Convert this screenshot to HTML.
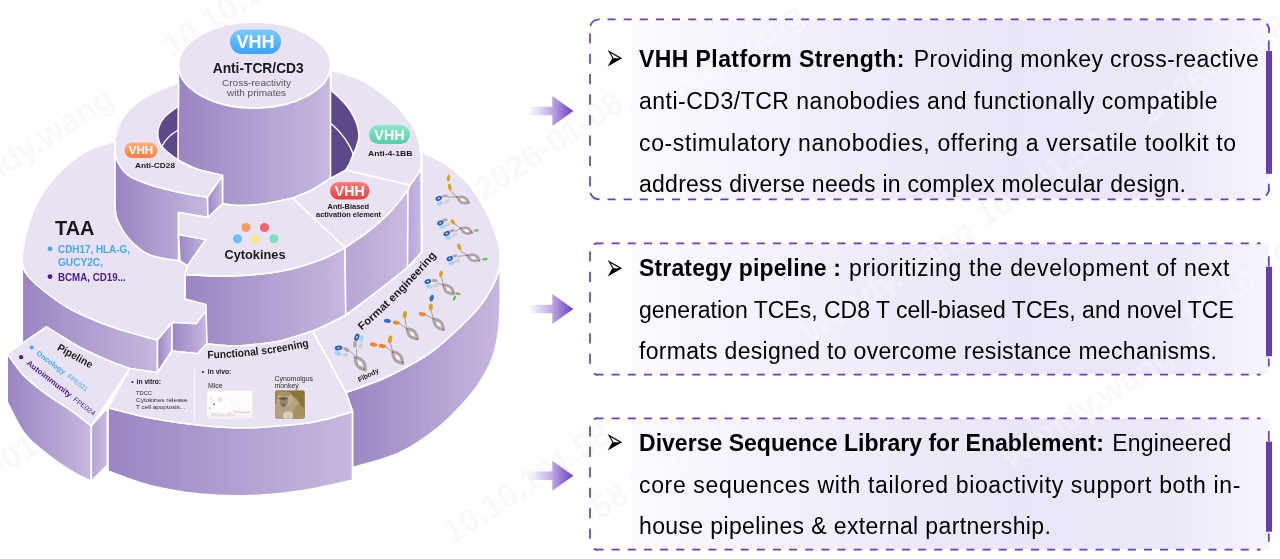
<!DOCTYPE html>
<html lang="en"><head><meta charset="utf-8"><title>VHH Platform</title>
<style>
html,body{margin:0;padding:0;background:#fff;}
body{width:1280px;height:559px;overflow:hidden;}
svg{display:block;font-family:"Liberation Sans",sans-serif;}
</style></head><body>
<svg width="1280" height="559" viewBox="0 0 1280 559">

<defs>
<clipPath id="bxclip"><rect x="632" y="20" width="637" height="179"/><rect x="632" y="244" width="637" height="130"/><rect x="632" y="419" width="637" height="130"/></clipPath>
<linearGradient id="wg" x1="0" x2="1" y1="0" y2="0"><stop offset="0" stop-color="#9a85c2"/><stop offset="1" stop-color="#c6b8df"/></linearGradient>
<linearGradient id="wgl" x1="0" x2="1" y1="0" y2="0"><stop offset="0" stop-color="#b7a6d5"/><stop offset="1" stop-color="#c8bae0"/></linearGradient>
<linearGradient id="gB" x1="0" x2="0" y1="0" y2="1"><stop offset="0" stop-color="#7ccaff"/><stop offset="1" stop-color="#3aa3f5"/></linearGradient>
<linearGradient id="gO" x1="0" x2="0" y1="0" y2="1"><stop offset="0" stop-color="#ffb07a"/><stop offset="1" stop-color="#f5803c"/></linearGradient>
<linearGradient id="gG" x1="0" x2="0" y1="0" y2="1"><stop offset="0" stop-color="#8ee8c9"/><stop offset="1" stop-color="#4fd0a8"/></linearGradient>
<linearGradient id="gR" x1="0" x2="0" y1="0" y2="1"><stop offset="0" stop-color="#ff7f7f"/><stop offset="1" stop-color="#ec3b3b"/></linearGradient>
<linearGradient id="mbg" x1="0" x2="0" y1="0" y2="1"><stop offset="0" stop-color="#ffffff"/><stop offset="0.7" stop-color="#fbfbfc"/><stop offset="1" stop-color="#efeef1"/></linearGradient>
<linearGradient id="bx" x1="0" x2="1" y1="0" y2="0"><stop offset="0" stop-color="#fcfbff"/><stop offset="0.1" stop-color="#f8f6fd"/><stop offset="0.25" stop-color="#f3f0fb"/><stop offset="0.45" stop-color="#ede9f8"/><stop offset="0.6" stop-color="#ebe6f7"/><stop offset="0.85" stop-color="#ede8f8"/><stop offset="1" stop-color="#f6f4fc"/></linearGradient>
<linearGradient id="ar" x1="0" x2="1" y1="0" y2="0"><stop offset="0" stop-color="#b9a3e3" stop-opacity="0"/><stop offset="1" stop-color="#b9a3e3"/></linearGradient>
<linearGradient id="ah" x1="0" x2="1" y1="0" y2="0"><stop offset="0" stop-color="#bba6e4"/><stop offset="1" stop-color="#6a3fc0"/></linearGradient>
</defs>
<g font-size="33" font-weight="bold" fill="#000" opacity="0.024"><text transform="translate(172 58) rotate(-33)">10.10.101.58</text><text transform="translate(-50 212) rotate(-33)">Wendy.wang</text><text transform="translate(484 201) rotate(-33)">2026-01-08</text><text transform="translate(-61 518) rotate(-33)">2026-01-08</text><text transform="translate(452 545) rotate(-33)">10.10.101.58</text><text transform="translate(640 128) rotate(-33)">Wendy.wang</text><text transform="translate(985 228) rotate(-33)">10.101.58</text><text transform="translate(1150 124) rotate(-33)">2026-01-08</text><text transform="translate(810 345) rotate(-33)">Wendy.wang</text><text transform="translate(600 520) rotate(-33)">58 2026-01</text><text transform="translate(1010 470) rotate(-33)">Wendy.wang</text><text transform="translate(1190 330) rotate(-33)">10.10.101</text></g>
<g id="diagram">
<path d="M22.3 256.0 C22.5 258.0 22.5 264.6 23.5 268.0 C24.5 271.4 25.3 272.8 28.5 276.5 C31.7 280.2 36.9 285.2 42.9 290.0 C48.9 294.8 57.3 301.1 64.4 305.5 C71.6 309.9 77.0 312.6 85.8 316.5 C94.6 320.4 105.5 324.8 117.5 328.8 C129.4 332.7 150.8 338.1 157.5 340.0 L157.5 373.0 L129.8 368.5 L129.8 368.5 C127.1 367.6 119.0 364.9 113.7 362.8 C108.4 360.7 103.6 358.6 98.0 356.0 C92.4 353.4 85.9 350.7 80.0 347.5 C74.1 344.3 68.2 340.4 62.6 337.0 C57.0 333.6 49.0 328.6 46.3 326.9 L22.3 344.6 Z" fill="url(#wg)" stroke="#ffffff" stroke-width="1.6" stroke-linejoin="round" />
<path d="M500.0 252.0 C499.9 254.7 500.6 262.1 499.3 268.0 C498.0 273.9 495.6 280.7 492.0 287.4 C488.4 294.1 484.2 301.0 478.0 308.4 C471.8 315.8 462.3 324.7 455.0 331.6 C447.7 338.5 441.2 344.6 434.0 350.0 C426.8 355.4 420.0 359.5 411.5 364.3 C403.0 369.1 393.9 374.0 383.0 378.7 C372.1 383.4 352.2 390.2 346.0 392.5 L352.5 411.5 L352.5 467.5 L353.0 467.5 C360.8 465.0 385.5 459.4 400.0 452.5 C414.5 445.6 428.5 435.2 440.0 426.0 C451.5 416.8 461.6 405.2 468.8 397.0 C476.0 388.8 478.9 383.9 483.0 377.0 C487.1 370.1 490.7 363.3 493.3 355.5 C495.9 347.7 497.4 339.2 498.6 330.0 C499.8 320.8 500.0 305.0 500.3 300.0 Z" fill="url(#wg)" stroke="#ffffff" stroke-width="1.6" stroke-linejoin="round" />
<path d="M423.3 153.3 C427.2 155.2 438.8 159.5 446.5 164.9 C454.2 170.3 463.2 178.1 469.8 185.8 C476.4 193.6 481.8 203.5 486.0 211.4 C490.2 219.3 493.0 226.2 495.3 233.0 C497.6 239.8 499.3 246.2 500.0 252.0 C500.7 257.8 500.6 262.1 499.3 268.0 C498.0 273.9 495.6 280.7 492.0 287.4 C488.4 294.1 484.2 301.0 478.0 308.4 C471.8 315.8 462.3 324.7 455.0 331.6 C447.7 338.5 441.2 344.6 434.0 350.0 C426.8 355.4 420.0 359.5 411.5 364.3 C403.0 369.1 393.9 374.0 383.0 378.7 C372.1 383.4 352.2 390.2 346.0 392.5 L312.5 331.0 L312.5 331.0 C318.0 328.3 335.8 321.0 345.8 315.0 C355.8 309.0 362.2 302.9 372.5 295.0 C382.8 287.1 399.2 274.7 407.5 267.5 C415.8 260.3 419.6 254.6 422.0 252.0 L422.0 154.0 Z" fill="#e9e2f2" stroke="#ffffff" stroke-width="1.6" stroke-linejoin="round" />
<path d="M185.0 274.5 C192.8 274.8 215.8 276.6 232.0 276.0 C248.2 275.4 267.3 273.7 282.0 271.0 C296.7 268.3 309.5 263.9 320.0 260.0 C330.5 256.1 340.8 249.6 345.0 247.5 L345.8 315.0 L345.8 315.0 C340.2 317.7 323.5 326.7 312.5 331.0 C301.5 335.3 290.4 338.7 280.0 341.0 C269.6 343.3 257.9 344.2 250.0 345.0 C242.1 345.8 239.7 346.2 232.5 346.0 C225.3 345.8 211.2 344.1 207.0 343.8 L185.0 340.0 Z" fill="url(#wg)" stroke="#ffffff" stroke-width="1.6" stroke-linejoin="round" />
<path d="M345.0 247.5 C349.2 244.6 362.5 235.9 370.0 230.0 C377.5 224.1 383.7 218.7 390.0 212.0 C396.3 205.3 405.0 193.7 408.0 190.0 L408.0 267.5 L407.5 267.5 C401.7 272.1 382.8 287.1 372.5 295.0 C362.2 302.9 350.2 311.7 345.8 315.0 Z" fill="url(#wgl)" stroke="#ffffff" stroke-width="1.6" stroke-linejoin="round" />
<path d="M408.0 190.0 L410.0 185.0 L420.0 170.0 L421.0 155.0 L421.5 252.0 L407.5 267.5 Z" fill="url(#wgl)" stroke="#ffffff" stroke-width="1.6" stroke-linejoin="round" />
<path d="M113.5 141.5 C108.9 143.2 95.4 146.0 86.0 151.5 C76.6 157.0 65.4 165.8 57.3 174.4 C49.2 183.0 42.5 193.0 37.2 203.0 C32.0 213.0 28.3 225.8 25.8 234.6 C23.3 243.4 22.7 250.4 22.3 256.0 C21.9 261.6 22.5 264.6 23.5 268.0 C24.5 271.4 25.3 272.8 28.5 276.5 C31.7 280.2 36.9 285.2 42.9 290.0 C48.9 294.8 57.3 301.1 64.4 305.5 C71.6 309.9 77.0 312.6 85.8 316.5 C94.6 320.4 105.5 324.8 117.5 328.8 C129.4 332.7 150.8 338.1 157.5 340.0 L172.0 322.5 L196.0 323.8 L206.0 311.0 L206.0 304.5 L185.0 299.0 L185.0 274.5 L187.5 266.0 L180.0 261.0 L180.0 261.0 C175.0 260.0 158.3 258.5 150.0 255.0 C141.7 251.5 135.4 245.8 130.0 240.0 C124.6 234.2 120.0 225.8 117.5 220.0 C115.0 214.2 115.4 207.5 115.0 205.0 L115.0 142.0 Z" fill="#e9e2f2" stroke="#ffffff" stroke-width="1.6" stroke-linejoin="round" />
<path d="M157.5 340.0 L172.0 322.5 L172.0 351.0 L157.5 372.5 Z" fill="url(#wg)" stroke="#ffffff" stroke-width="1.6" stroke-linejoin="round" />
<path d="M172.0 322.5 L196.0 323.8 L206.0 311.0 L207.0 343.8 L197.5 353.8 L172.0 351.0 Z" fill="url(#wg)" stroke="#ffffff" stroke-width="1.6" stroke-linejoin="round" />
<path d="M108.0 407.8 C115.0 409.5 134.7 415.1 150.0 418.0 C165.3 420.9 184.2 423.6 200.0 425.2 C215.8 426.8 228.3 428.0 245.0 427.8 C261.7 427.6 286.7 425.4 300.0 424.0 C313.3 422.6 316.2 421.6 325.0 419.5 C333.8 417.4 347.9 412.8 352.5 411.5 L352.5 480.0 L351.5 480.5 C342.9 482.2 316.9 488.5 300.0 491.0 C283.1 493.5 266.7 495.0 250.0 495.5 C233.3 496.0 216.7 495.7 200.0 494.0 C183.3 492.3 165.3 489.3 150.0 485.5 C134.7 481.7 115.0 473.4 108.0 471.0 Z" fill="url(#wg)" stroke="#ffffff" stroke-width="1.6" stroke-linejoin="round" />
<path d="M129.8 368.5 L157.5 372.5 L172.0 351.0 L197.5 353.8 L207.0 343.8 C211.2 344.1 225.3 345.8 232.5 346.0 C239.7 346.2 242.1 345.8 250.0 345.0 C257.9 344.2 269.6 343.3 280.0 341.0 C290.4 338.7 307.1 332.7 312.5 331.0 L346.0 392.5 L352.5 411.5 L352.5 411.5 C347.9 412.8 333.8 417.4 325.0 419.5 C316.2 421.6 313.3 422.6 300.0 424.0 C286.7 425.4 261.7 427.6 245.0 427.8 C228.3 428.0 215.8 426.8 200.0 425.2 C184.2 423.6 165.3 420.9 150.0 418.0 C134.7 415.1 115.0 409.5 108.0 407.8 Z" fill="#e9e2f2" stroke="#ffffff" stroke-width="1.6" stroke-linejoin="round" />
<path d="M7.2 353.5 C9.9 357.1 17.1 368.3 23.3 374.9 C29.6 381.4 36.7 386.8 44.7 392.8 C52.8 398.8 63.8 405.3 71.6 410.8 C79.4 416.3 88.0 423.3 91.3 425.8 L91.3 481.0 L91.3 481.0 C88.6 479.7 81.9 477.4 75.0 473.3 C68.1 469.2 58.3 462.9 50.0 456.3 C41.7 449.8 32.1 443.1 25.0 434.0 C17.9 424.9 10.2 407.3 7.2 402.0 Z" fill="url(#wg)" stroke="#ffffff" stroke-width="1.6" stroke-linejoin="round" />
<path d="M91.3 425.8 L107.5 408.0 L107.5 465.0 L91.3 481.0 Z" fill="url(#wgl)" stroke="#ffffff" stroke-width="1.6" stroke-linejoin="round" />
<path d="M46.3 326.9 C49.0 328.6 57.0 333.6 62.6 337.0 C68.2 340.4 74.1 344.3 80.0 347.5 C85.9 350.7 92.4 353.4 98.0 356.0 C103.6 358.6 108.4 360.7 113.7 362.8 C119.0 364.9 127.1 367.6 129.8 368.5 L91.3 425.8 L91.3 425.8 C88.0 423.3 79.4 416.3 71.6 410.8 C63.8 405.3 52.8 398.8 44.7 392.8 C36.7 386.8 29.6 381.4 23.3 374.9 C17.1 368.3 9.9 357.1 7.2 353.5 Z" fill="#e9e2f2" stroke="#ffffff" stroke-width="1.6" stroke-linejoin="round" />
<path d="M178.5 106.0 C176.2 107.8 167.9 113.5 164.6 117.0 C161.3 120.5 159.8 123.9 158.7 127.0 C157.6 130.1 157.3 132.5 157.8 135.8 C158.3 139.1 158.3 142.6 161.7 146.6 C165.1 150.6 175.3 157.8 178.0 160.0 L331.0 178.0 L346.0 170.0 L346.0 170.0 C346.8 168.3 348.8 165.8 351.0 160.0 C353.2 154.2 359.2 143.3 359.0 135.0 C358.8 126.7 354.7 117.5 350.0 110.0 C345.3 102.5 334.2 93.3 331.0 90.0 Z" fill="#5d4889" stroke="none" stroke-width="1.6" stroke-linejoin="round" />
<path d="M161.7 146.6 Q167 136 179 129.5" fill="none" stroke="#fff" stroke-width="1.4"/>
<path d="M330 122.5 Q348 138 354 156" fill="none" stroke="#fff" stroke-width="1.4"/>
<path d="M178.5 65.0 L178.0 160.0 C181.0 161.5 190.7 166.7 196.0 168.8 C201.3 170.8 205.6 171.4 210.0 172.5 C214.4 173.6 220.4 175.0 222.5 175.5 L222.5 203.8 L222.5 203.8 C225.4 204.1 232.9 205.6 240.0 205.6 C247.1 205.6 256.2 205.0 265.0 203.8 C273.8 202.5 287.9 199.0 292.5 198.0 L292.5 198.0 C295.8 196.7 305.7 193.2 312.0 190.0 C318.3 186.8 327.4 180.4 330.5 178.5 L330.5 65.0 Z" fill="url(#wg)" stroke="#ffffff" stroke-width="1.6" stroke-linejoin="round" />
<ellipse cx="254.5" cy="65" rx="76" ry="43" fill="#e9e2f2" stroke="#fff" stroke-width="1.8"/>
<path d="M115.0 142.5 C115.3 145.4 114.8 154.6 117.0 160.0 C119.2 165.4 123.3 171.2 128.0 175.0 C132.7 178.8 138.8 180.7 145.0 183.0 C151.2 185.3 157.5 187.1 165.0 189.0 C172.5 190.9 182.9 193.2 190.0 194.5 C197.1 195.8 204.6 196.6 207.5 197.0 L208.0 217.5 L178.5 212.5 L178.5 261.0 L180.0 261.0 C175.0 260.0 158.3 258.5 150.0 255.0 C141.7 251.5 135.4 245.8 130.0 240.0 C124.6 234.2 120.0 225.8 117.5 220.0 C115.0 214.2 115.4 207.5 115.0 205.0 Z" fill="url(#wg)" stroke="#ffffff" stroke-width="1.6" stroke-linejoin="round" />
<path d="M207.5 197.0 L222.5 175.5 L222.5 203.8 L208.0 217.5 Z" fill="url(#wg)" stroke="#ffffff" stroke-width="1.6" stroke-linejoin="round" />
<path d="M178.5 234.5 L206.0 239.5 L187.5 266.0 L180.0 261.0 Z" fill="url(#wg)" stroke="#ffffff" stroke-width="1.6" stroke-linejoin="round" />
<path d="M178.5 82.6 C175.2 83.9 165.3 87.4 158.7 90.5 C152.1 93.6 144.9 96.9 139.0 101.3 C133.1 105.7 127.1 111.8 123.3 117.0 C119.5 122.2 117.8 128.6 116.4 132.8 C115.0 137.1 114.9 138.0 115.0 142.5 C115.1 147.0 114.8 154.6 117.0 160.0 C119.2 165.4 123.3 171.2 128.0 175.0 C132.7 178.8 138.8 180.7 145.0 183.0 C151.2 185.3 157.5 187.1 165.0 189.0 C172.5 190.9 182.9 193.2 190.0 194.5 C197.1 195.8 204.6 196.6 207.5 197.0 L222.5 175.5 L222.5 175.5 C220.4 175.0 214.4 173.6 210.0 172.5 C205.6 171.4 201.3 170.8 196.0 168.8 C190.7 166.7 183.7 163.7 178.0 160.0 C172.3 156.3 165.1 150.6 161.7 146.6 C158.3 142.6 158.3 139.1 157.8 135.8 C157.3 132.5 157.6 130.1 158.7 127.0 C159.8 123.9 161.3 120.5 164.6 117.0 C167.9 113.5 176.2 107.8 178.5 106.0 Z" fill="#e9e2f2" stroke="#ffffff" stroke-width="1.6" stroke-linejoin="round" />
<path d="M178.5 212.5 L208.0 217.5 L222.5 203.8 L222.5 203.8 C225.4 204.1 232.9 205.6 240.0 205.6 C247.1 205.6 256.2 205.0 265.0 203.8 C273.8 202.5 287.9 199.0 292.5 198.0 L345.0 247.5 L345.0 247.5 C340.8 249.6 330.5 256.1 320.0 260.0 C309.5 263.9 296.7 268.3 282.0 271.0 C267.3 273.7 248.2 275.4 232.0 276.0 C215.8 276.6 192.8 274.8 185.0 274.5 L187.5 266.0 L206.0 239.5 L178.5 234.5 Z" fill="#e9e2f2" stroke="#ffffff" stroke-width="1.6" stroke-linejoin="round" />
<path d="M292.5 198.0 L345.0 247.5 L345.0 247.5 C349.2 244.6 362.5 235.9 370.0 230.0 C377.5 224.1 383.7 218.7 390.0 212.0 C396.3 205.3 405.0 193.7 408.0 190.0 L410.0 185.0 L346.0 170.0 L346.0 170.0 C343.5 171.3 336.7 174.7 331.0 178.0 C325.3 181.3 318.4 186.7 312.0 190.0 C305.6 193.3 295.8 196.7 292.5 198.0 Z" fill="#e9e2f2" stroke="#ffffff" stroke-width="1.6" stroke-linejoin="round" />
<path d="M331.0 70.0 C336.2 71.8 352.7 75.9 362.0 80.5 C371.3 85.1 379.5 91.2 387.0 97.5 C394.5 103.8 402.0 111.7 407.0 118.0 C412.0 124.3 414.7 129.3 417.0 135.5 C419.3 141.7 420.5 149.2 421.0 155.0 C421.5 160.8 421.8 165.0 420.0 170.0 C418.2 175.0 411.7 182.5 410.0 185.0 L346.0 170.0 L346.0 170.0 C346.8 168.3 348.8 165.8 351.0 160.0 C353.2 154.2 359.2 143.3 359.0 135.0 C358.8 126.7 354.7 117.5 350.0 110.0 C345.3 102.5 334.2 93.3 331.0 90.0 Z" fill="#e9e2f2" stroke="#ffffff" stroke-width="1.6" stroke-linejoin="round" />
</g>
<g id="labels">
<rect x="230" y="29.5" width="51" height="24.5" rx="12.25" fill="url(#gB)"/>
<text x="255.5" y="48.23" font-size="18" font-weight="bold" fill="#fff" text-anchor="middle" >VHH</text>
<text x="258.2" y="72.5" font-size="14.8" font-weight="bold" fill="#1a1a1a" text-anchor="middle"  textLength="91" lengthAdjust="spacingAndGlyphs">Anti-TCR/CD3</text>
<text x="256.5" y="86" font-size="9.8" font-weight="normal" fill="#555" text-anchor="middle"  textLength="69" lengthAdjust="spacingAndGlyphs">Cross-reactivity</text>
<text x="256.5" y="96" font-size="9.8" font-weight="normal" fill="#555" text-anchor="middle"  textLength="59" lengthAdjust="spacingAndGlyphs">with primates</text>
<rect x="124.5" y="142.5" width="33.0" height="15.5" rx="7.75" fill="url(#gO)"/>
<text x="141.0" y="154.426" font-size="11.6" font-weight="bold" fill="#fff" text-anchor="middle" >VHH</text>
<text x="155" y="168.2" font-size="7.8" font-weight="bold" fill="#1a1a1a" text-anchor="middle"  textLength="40" lengthAdjust="spacingAndGlyphs">Anti-CD28</text>
<rect x="369" y="125" width="41" height="19" rx="9.5" fill="url(#gG)"/>
<text x="389.5" y="139.684" font-size="14.4" font-weight="bold" fill="#fff" text-anchor="middle" >VHH</text>
<text x="390.2" y="156.3" font-size="8" font-weight="bold" fill="#1a1a1a" text-anchor="middle"  textLength="44.5" lengthAdjust="spacingAndGlyphs">Anti-4-1BB</text>
<rect x="330" y="182" width="39.5" height="17.5" rx="8.75" fill="url(#gR)"/>
<text x="349.75" y="195.862" font-size="14.2" font-weight="bold" fill="#fff" text-anchor="middle" >VHH</text>
<text x="348.3" y="209.3" font-size="6.8" font-weight="bold" fill="#1a1a1a" text-anchor="middle"  textLength="41.5" lengthAdjust="spacingAndGlyphs">Anti-Biased</text>
<text x="348.5" y="217" font-size="6.8" font-weight="bold" fill="#1a1a1a" text-anchor="middle"  textLength="65" lengthAdjust="spacingAndGlyphs">activation element</text>
<circle cx="246" cy="227.5" r="4.6" fill="#ff9b61"/>
<circle cx="264.5" cy="227.5" r="4.6" fill="#f7626a"/>
<circle cx="237.5" cy="238.8" r="4.6" fill="#6cbcfb"/>
<circle cx="255" cy="239" r="4.6" fill="#fbe489"/>
<circle cx="273.8" cy="238.8" r="4.6" fill="#7fe0bf"/>
<text x="255" y="258.8" font-size="12.6" font-weight="bold" fill="#1a1a1a" text-anchor="middle"  textLength="61" lengthAdjust="spacingAndGlyphs">Cytokines</text>
<text x="55" y="234.5" font-size="20.5" font-weight="bold" fill="#1a1a1a" text-anchor="start"  textLength="39.5" lengthAdjust="spacingAndGlyphs">TAA</text>
<circle cx="50" cy="248.8" r="2.4" fill="#45a8f5"/>
<text x="58" y="253" font-size="11.4" font-weight="bold" fill="#45a8f5" text-anchor="start"  textLength="72" lengthAdjust="spacingAndGlyphs">CDH17, HLA-G,</text>
<text x="58" y="265.6" font-size="11.4" font-weight="bold" fill="#45a8f5" text-anchor="start"  textLength="45" lengthAdjust="spacingAndGlyphs">GUCY2C,</text>
<circle cx="50" cy="276.6" r="2.4" fill="#4a1a96"/>
<text x="58" y="280.6" font-size="11.4" font-weight="bold" fill="#4a1a96" text-anchor="start"  textLength="67.8" lengthAdjust="spacingAndGlyphs">BCMA, CD19...</text>
<g transform="translate(56.4,349.7) rotate(29)"><text x="0" y="0" font-size="10.6" font-weight="bold" fill="#1a1a1a" textLength="38.8" lengthAdjust="spacingAndGlyphs">Pipeline</text></g>
<circle cx="31.8" cy="347.5" r="2.1" fill="#45a8f5"/>
<g transform="translate(35.8,354.2) rotate(36.8)"><text x="0" y="0" font-size="7.5" font-weight="bold" fill="#45a8f5" textLength="34.2" lengthAdjust="spacingAndGlyphs">Oncology</text><text x="38.6" y="0" font-size="6.8" font-weight="normal" fill="#45a8f5" textLength="24" lengthAdjust="spacingAndGlyphs">FPE021</text></g>
<circle cx="21.1" cy="357.2" r="2.1" fill="#4a1a96"/>
<g transform="translate(25.9,364) rotate(37.7)"><text x="0" y="0" font-size="7.8" font-weight="bold" fill="#4a1a96" textLength="55" lengthAdjust="spacingAndGlyphs">Autoimmunity</text><text x="59.3" y="0" font-size="6.8" font-weight="normal" fill="#4a1a96" textLength="25.5" lengthAdjust="spacingAndGlyphs">FPE024</text></g>
<path id="fsp" d="M207.5 358.5 Q262 357 310 346" fill="none"/>
<text font-size="11" font-weight="bold" fill="#1a1a1a"><textPath href="#fsp" textLength="102.5" lengthAdjust="spacingAndGlyphs">Functional screening</textPath></text>
<text x="131.2" y="384.2" font-size="6.6" font-weight="bold" fill="#1a1a1a" text-anchor="start" >•</text>
<text x="136.6" y="384.2" font-size="6.8" font-weight="bold" fill="#1a1a1a" text-anchor="start"  textLength="24.5" lengthAdjust="spacingAndGlyphs">in vitro:</text>
<text x="136" y="394.8" font-size="6.1" font-weight="normal" fill="#2a2a2a" text-anchor="start"  textLength="16" lengthAdjust="spacingAndGlyphs">TDCC</text>
<text x="136" y="401.7" font-size="6.1" font-weight="normal" fill="#2a2a2a" text-anchor="start"  textLength="51.6" lengthAdjust="spacingAndGlyphs">Cytokines release</text>
<text x="136" y="408.7" font-size="6.1" font-weight="normal" fill="#2a2a2a" text-anchor="start"  textLength="49.2" lengthAdjust="spacingAndGlyphs">T cell apoptosis...</text>
<line x1="194.5" y1="370" x2="194.5" y2="420" stroke="#fff" stroke-width="0.8"/>
<text x="201.8" y="374" font-size="6.6" font-weight="bold" fill="#1a1a1a" text-anchor="start" >•</text>
<text x="207.8" y="374" font-size="6.8" font-weight="bold" fill="#1a1a1a" text-anchor="start"  textLength="23.5" lengthAdjust="spacingAndGlyphs">in vivo:</text>
<text x="208" y="387.6" font-size="6.3" font-weight="normal" fill="#2a2a2a" text-anchor="start"  textLength="14.7" lengthAdjust="spacingAndGlyphs">Mice</text>
<text x="274.4" y="380.7" font-size="6.3" font-weight="normal" fill="#2a2a2a" text-anchor="start"  textLength="38.6" lengthAdjust="spacingAndGlyphs">Cynomolgus</text>
<text x="274.4" y="387.6" font-size="6.3" font-weight="normal" fill="#2a2a2a" text-anchor="start"  textLength="24.4" lengthAdjust="spacingAndGlyphs">monkey</text>
<rect x="207.2" y="390.8" width="45" height="28.2" rx="1.6" fill="url(#mbg)"/>
<ellipse cx="223.5" cy="415" rx="13" ry="1.6" fill="#e6e4e8"/><path d="M233 411.3 Q242 413.2 251 412" stroke="#eab9b6" stroke-width="0.9" fill="none"/><ellipse cx="224" cy="406.5" rx="9.6" ry="7.6" fill="#fff" stroke="#e9e6ec" stroke-width="0.5"/><path d="M209.6 408 Q211 400.5 219 399 Q225 400 224 409 Q218 414.5 211.5 412 Z" fill="#fff" stroke="#ece9ee" stroke-width="0.4"/><ellipse cx="220" cy="399.6" rx="2.2" ry="2.9" transform="rotate(15 220 399.6)" fill="#f7dcdc"/><ellipse cx="211.3" cy="398.3" rx="1.1" ry="2" transform="rotate(-20 211.3 398.3)" fill="#f9e6e6"/><circle cx="214" cy="404.3" r="0.8" fill="#1a1a1a"/><circle cx="210" cy="408" r="0.9" fill="#f2b5b5"/><ellipse cx="213" cy="413.6" rx="1.8" ry="0.7" fill="#f3c3bf"/><ellipse cx="229.5" cy="413.8" rx="1.8" ry="0.7" fill="#f3c3bf"/>
<clipPath id="mk"><rect x="275" y="390.2" width="29.9" height="28.5" rx="2.6"/></clipPath><g clip-path="url(#mk)"><rect x="275" y="390.2" width="29.9" height="28.5" fill="#8b7536"/><rect x="275" y="390.2" width="8" height="12" fill="#a08a4e"/><ellipse cx="287.5" cy="411" rx="13.5" ry="16" fill="#b3a282"/><ellipse cx="299" cy="414" rx="6" ry="9" fill="#a8905a"/><ellipse cx="285.3" cy="399.3" rx="8.2" ry="7.6" fill="#bdae8e"/><ellipse cx="285" cy="394" rx="6.5" ry="2.6" fill="#a8946a"/><ellipse cx="283.6" cy="402.3" rx="4.2" ry="5" fill="#93826a"/><ellipse cx="283.4" cy="398.6" rx="4.8" ry="1.4" fill="#6b5a46"/><ellipse cx="283.6" cy="405" rx="1.8" ry="1.6" fill="#7a6955"/><ellipse cx="288" cy="415.5" rx="5.2" ry="4.2" fill="#d6cdb8"/></g>
<path id="fep" d="M361.8 330.5 Q402 296 438.5 253" fill="none"/>
<text font-size="10.8" font-weight="bold" fill="#1a1a1a"><textPath href="#fep" textLength="106" lengthAdjust="spacingAndGlyphs">Format engineering</textPath></text>
<g transform="translate(359.4,382.2) rotate(-27)"><text font-size="7" font-weight="bold" fill="#1a1a1a" textLength="22.4" lengthAdjust="spacingAndGlyphs">Fibody</text></g>
<line x1="450" y1="190" x2="456.5" y2="197" stroke="#9a9698" stroke-width="0.9"/>
<line x1="447" y1="197" x2="456.5" y2="197" stroke="#9a9698" stroke-width="0.9"/>
<ellipse cx="448.5" cy="178" rx="1.6" ry="3.2" transform="rotate(5 448.5 178)" fill="#d8a41c" />
<ellipse cx="449.8" cy="187.2" rx="1.8" ry="3.5" transform="rotate(-12 449.8 187.2)" fill="#d8a41c" />
<ellipse cx="438.8" cy="198.3" rx="3.4" ry="2.3" transform="rotate(-25 438.8 198.3)" fill="#2b62ab" />
<ellipse cx="438.8" cy="198.3" rx="1.2" ry="0.7" transform="rotate(-25 438.8 198.3)" fill="#dfe9f6" />
<ellipse cx="439.9" cy="203.3" rx="3.1999999999999997" ry="1.9" transform="rotate(-15 439.9 203.3)" fill="#a5d3f3" />
<ellipse cx="445" cy="196" rx="3" ry="1.5" transform="rotate(-8 445 196)" fill="#aeaaaa" />
<ellipse cx="447.2" cy="201.4" rx="3" ry="1.7" transform="rotate(-20 447.2 201.4)" fill="#d2d0d2" />
<path d="M455.9 196.8 Q459.5 207.8 470.1 203.2 Q466.5 192.2 455.9 196.8 Z" fill="#aaa6a8"/>
<path d="M459.4 198.4 L462.3 201.6 L466.6 201.6 L463.7 198.4 Z" fill="#f4f0f8"/>
<circle cx="456.6" cy="196.9" r="0.9" fill="#e8463c"/>
<circle cx="468.6" cy="202.6" r="0.9" fill="#e8463c"/>
<line x1="455" y1="224" x2="460.6" y2="228.1" stroke="#9a9698" stroke-width="0.9"/>
<line x1="455" y1="232" x2="460.6" y2="228.1" stroke="#9a9698" stroke-width="0.9"/>
<ellipse cx="440.4" cy="222.8" rx="3.4" ry="2.3" transform="rotate(-25 440.4 222.8)" fill="#2b62ab" />
<ellipse cx="440.4" cy="222.8" rx="1.2" ry="0.7" transform="rotate(-25 440.4 222.8)" fill="#dfe9f6" />
<ellipse cx="442.2" cy="226.9" rx="3.1999999999999997" ry="1.9" transform="rotate(-15 442.2 226.9)" fill="#a5d3f3" />
<ellipse cx="444.9" cy="220.1" rx="3" ry="1.5" transform="rotate(-5 444.9 220.1)" fill="#aeaaaa" />
<ellipse cx="447.8" cy="224.6" rx="3" ry="1.7" transform="rotate(-20 447.8 224.6)" fill="#d2d0d2" />
<ellipse cx="452.9" cy="221.9" rx="1.7" ry="3" transform="rotate(-35 452.9 221.9)" fill="#d8a41c" />
<ellipse cx="446.7" cy="233.5" rx="3.4" ry="2.3" transform="rotate(-25 446.7 233.5)" fill="#2b62ab" />
<ellipse cx="446.7" cy="233.5" rx="1.2" ry="0.7" transform="rotate(-25 446.7 233.5)" fill="#dfe9f6" />
<ellipse cx="448.5" cy="237.6" rx="3.1999999999999997" ry="1.9" transform="rotate(-15 448.5 237.6)" fill="#a5d3f3" />
<ellipse cx="452" cy="230.8" rx="3" ry="1.5" transform="rotate(-15 452 230.8)" fill="#aeaaaa" />
<ellipse cx="454.7" cy="234.9" rx="3" ry="1.7" transform="rotate(-25 454.7 234.9)" fill="#d2d0d2" />
<path d="M459.3 228.0 Q463.6 238.4 473.5 233.2 Q469.2 222.8 459.3 228.0 Z" fill="#aaa6a8"/>
<path d="M462.8 229.3 L465.8 232.2 L470.0 231.9 L467.0 229.0 Z" fill="#f4f0f8"/>
<circle cx="460.6" cy="228.2" r="0.9" fill="#e8463c"/>
<circle cx="471.6" cy="232" r="0.9" fill="#e8463c"/>
<ellipse cx="476.4" cy="230.5" rx="2.6" ry="1.2" transform="rotate(-5 476.4 230.5)" fill="#6cc04a" />
<line x1="460" y1="250.5" x2="467.2" y2="255.2" stroke="#9a9698" stroke-width="0.9"/>
<line x1="458" y1="256.5" x2="467.2" y2="255.2" stroke="#9a9698" stroke-width="0.9"/>
<ellipse cx="459.2" cy="246.9" rx="1.8" ry="3.4" transform="rotate(-15 459.2 246.9)" fill="#d8a41c" />
<ellipse cx="449.7" cy="258.6" rx="3.4" ry="2.3" transform="rotate(-25 449.7 258.6)" fill="#2b62ab" />
<ellipse cx="449.7" cy="258.6" rx="1.2" ry="0.7" transform="rotate(-25 449.7 258.6)" fill="#dfe9f6" />
<ellipse cx="451.5" cy="263" rx="3.1999999999999997" ry="1.9" transform="rotate(-15 451.5 263)" fill="#a5d3f3" />
<ellipse cx="454.7" cy="255.9" rx="3" ry="1.5" transform="rotate(-8 454.7 255.9)" fill="#aeaaaa" />
<ellipse cx="457.4" cy="260.9" rx="3" ry="1.7" transform="rotate(-22 457.4 260.9)" fill="#d2d0d2" />
<path d="M465.7 255.6 Q471.0 266.2 481.1 260.0 Q475.8 249.4 465.7 255.6 Z" fill="#aaa6a8"/>
<path d="M469.6 256.7 L472.9 259.6 L477.2 258.9 L473.9 256.0 Z" fill="#f4f0f8"/>
<circle cx="467.2" cy="255.2" r="0.9" fill="#e8463c"/>
<circle cx="479" cy="260.8" r="0.9" fill="#e8463c"/>
<ellipse cx="484.8" cy="259.2" rx="3" ry="1.3" transform="rotate(-5 484.8 259.2)" fill="#6cc04a" />
<line x1="441.5" y1="277.5" x2="443.3" y2="285" stroke="#9a9698" stroke-width="0.9"/>
<line x1="437" y1="283" x2="443.3" y2="285" stroke="#9a9698" stroke-width="0.9"/>
<ellipse cx="441" cy="274" rx="1.8" ry="3.4" transform="rotate(10 441 274)" fill="#d8a41c" />
<ellipse cx="427.8" cy="281.5" rx="3.4" ry="2.3" transform="rotate(-20 427.8 281.5)" fill="#2b62ab" />
<ellipse cx="427.8" cy="281.5" rx="1.2" ry="0.7" transform="rotate(-20 427.8 281.5)" fill="#dfe9f6" />
<ellipse cx="429" cy="286.6" rx="3.1999999999999997" ry="1.9" transform="rotate(10 429 286.6)" fill="#a5d3f3" />
<ellipse cx="434.4" cy="280.6" rx="3" ry="1.6" transform="rotate(5 434.4 280.6)" fill="#aeaaaa" />
<ellipse cx="435.4" cy="285.7" rx="3" ry="1.7" transform="rotate(-15 435.4 285.7)" fill="#d2d0d2" />
<path d="M442.1 283.5 Q442.5 295.9 454.9 295.1 Q454.5 282.7 442.1 283.5 Z" fill="#aaa6a8"/>
<path d="M445.3 286.4 L447.2 290.7 L451.7 292.2 L449.8 287.9 Z" fill="#f4f0f8"/>
<circle cx="443.3" cy="285" r="0.9" fill="#e8463c"/>
<circle cx="453.3" cy="292.8" r="0.9" fill="#e8463c"/>
<ellipse cx="458" cy="293.7" rx="2.9" ry="1.3" transform="rotate(15 458 293.7)" fill="#6cc04a" />
<ellipse cx="454.5" cy="298" rx="1.3" ry="2.7" transform="rotate(25 454.5 298)" fill="#6cc04a" />
<line x1="430.9" y1="310" x2="433.5" y2="319" stroke="#9a9698" stroke-width="0.9"/>
<line x1="426" y1="315" x2="433.5" y2="319" stroke="#9a9698" stroke-width="0.9"/>
<ellipse cx="431.7" cy="298.1" rx="2" ry="3.5" transform="rotate(15 431.7 298.1)" fill="#2d70c9" />
<ellipse cx="430.8" cy="306.9" rx="2" ry="3.5" transform="rotate(5 430.8 306.9)" fill="#d8a41c" />
<ellipse cx="422.4" cy="314.2" rx="3.7" ry="2" transform="rotate(10 422.4 314.2)" fill="#f0872b" />
<path d="M432.3 317.6 Q431.8 330.6 444.9 331.0 Q445.4 318.0 432.3 317.6 Z" fill="#aaa6a8"/>
<path d="M435.5 320.9 L437.2 325.6 L441.7 327.7 L440.0 323.0 Z" fill="#f4f0f8"/>
<circle cx="433.6" cy="319" r="0.9" fill="#e8463c"/>
<circle cx="443.4" cy="329.5" r="0.9" fill="#e8463c"/>
<line x1="404.9" y1="318" x2="406.7" y2="328.9" stroke="#9a9698" stroke-width="0.9"/>
<line x1="399.5" y1="323.5" x2="406.7" y2="328.9" stroke="#9a9698" stroke-width="0.9"/>
<ellipse cx="404.9" cy="314.6" rx="2" ry="3.7" transform="rotate(10 404.9 314.6)" fill="#d8a41c" />
<ellipse cx="387.4" cy="320.8" rx="3.5" ry="2" transform="rotate(10 387.4 320.8)" fill="#2d70c9" />
<ellipse cx="396.3" cy="322.6" rx="3.5" ry="2" transform="rotate(10 396.3 322.6)" fill="#f0872b" />
<path d="M405.6 327.2 Q405.5 340.5 418.8 340.4 Q418.9 327.1 405.6 327.2 Z" fill="#aaa6a8"/>
<path d="M408.9 330.5 L410.8 335.2 L415.5 337.1 L413.6 332.4 Z" fill="#f4f0f8"/>
<circle cx="406.8" cy="328.9" r="0.9" fill="#e8463c"/>
<circle cx="417.4" cy="338.8" r="0.9" fill="#e8463c"/>
<line x1="390.2" y1="343" x2="392.8" y2="352" stroke="#9a9698" stroke-width="0.9"/>
<line x1="386" y1="347" x2="392.8" y2="352" stroke="#9a9698" stroke-width="0.9"/>
<ellipse cx="373.6" cy="344.6" rx="3.8" ry="2.1" transform="rotate(10 373.6 344.6)" fill="#f0872b" />
<ellipse cx="382.2" cy="346" rx="3.8" ry="2.1" transform="rotate(10 382.2 346)" fill="#f0872b" />
<ellipse cx="390.1" cy="339.3" rx="2.1" ry="3.9" transform="rotate(10 390.1 339.3)" fill="#d8a41c" />
<path d="M391.3 349.9 Q390.2 363.6 403.9 364.9 Q405.0 351.2 391.3 349.9 Z" fill="#aaa6a8"/>
<path d="M394.5 353.6 L396.0 358.7 L400.7 361.2 L399.2 356.1 Z" fill="#f4f0f8"/>
<circle cx="392.8" cy="352.2" r="0.9" fill="#e8463c"/>
<circle cx="402.7" cy="362" r="0.9" fill="#e8463c"/>
<line x1="350" y1="351" x2="356.5" y2="357.5" stroke="#9a9698" stroke-width="0.9"/>
<line x1="356.5" y1="348.5" x2="356.5" y2="357.5" stroke="#9a9698" stroke-width="0.9"/>
<ellipse cx="338.6" cy="347.9" rx="3.9" ry="2.4" transform="rotate(-10 338.6 347.9)" fill="#2b62ab" />
<ellipse cx="338.6" cy="347.9" rx="1.2" ry="0.7" transform="rotate(-10 338.6 347.9)" fill="#dfe9f6" />
<ellipse cx="337.9" cy="353.2" rx="3.6999999999999997" ry="2.0" transform="rotate(25 337.9 353.2)" fill="#a5d3f3" />
<ellipse cx="346.5" cy="349.6" rx="3.5" ry="1.9" transform="rotate(30 346.5 349.6)" fill="#aeaaaa" />
<ellipse cx="345" cy="355" rx="3.2" ry="1.9" transform="rotate(-10 345 355)" fill="#d2d0d2" />
<ellipse cx="356.9" cy="337.2" rx="2.4" ry="3.8" transform="rotate(20 356.9 337.2)" fill="#2b62ab" />
<ellipse cx="356.9" cy="337.2" rx="0.7" ry="1.3" transform="rotate(20 356.9 337.2)" fill="#dfe9f6" />
<ellipse cx="361.5" cy="338.4" rx="2.1" ry="3.5" transform="rotate(10 361.5 338.4)" fill="#a5d3f3" />
<ellipse cx="355" cy="344.4" rx="1.9" ry="3.4" transform="rotate(5 355 344.4)" fill="#aeaaaa" />
<ellipse cx="360.6" cy="345.9" rx="1.9" ry="3.2" transform="rotate(28 360.6 345.9)" fill="#d2d0d2" />
<path d="M353.8 355.2 Q352.1 369.7 366.6 371.6 Q368.3 357.1 353.8 355.2 Z" fill="#aaa6a8"/>
<path d="M357.0 359.3 L358.5 364.7 L363.4 367.5 L361.9 362.1 Z" fill="#f4f0f8"/>
<circle cx="356.3" cy="357.8" r="0.9" fill="#e8463c"/>
<circle cx="364.2" cy="369.2" r="0.9" fill="#e8463c"/>
</g>
<g id="rightfill">
<rect x="632" y="19.9" width="637" height="179.0" fill="url(#bx)"/>
<rect x="632" y="243.9" width="637" height="130.20000000000002" fill="url(#bx)"/>
<rect x="632" y="418.8" width="637" height="130.40000000000003" fill="url(#bx)"/>
</g>
<g clip-path="url(#bxclip)"><g font-size="33" font-weight="bold" fill="#fff" opacity="0.28"><text transform="translate(172 58) rotate(-33)">10.10.101.58</text><text transform="translate(-50 212) rotate(-33)">Wendy.wang</text><text transform="translate(484 201) rotate(-33)">2026-01-08</text><text transform="translate(-61 518) rotate(-33)">2026-01-08</text><text transform="translate(452 545) rotate(-33)">10.10.101.58</text><text transform="translate(640 128) rotate(-33)">Wendy.wang</text><text transform="translate(985 228) rotate(-33)">10.101.58</text><text transform="translate(1150 124) rotate(-33)">2026-01-08</text><text transform="translate(810 345) rotate(-33)">Wendy.wang</text><text transform="translate(600 520) rotate(-33)">58 2026-01</text><text transform="translate(1010 470) rotate(-33)">Wendy.wang</text><text transform="translate(1190 330) rotate(-33)">10.10.101</text></g></g>
<g id="right">
<path d="M590.2 25.9 A10 10 0 0 1 599.6 19.4" fill="none" stroke="#6a3dc4" stroke-width="1.7"/>
<path d="M1266.6 23.599999999999998 A10 10 0 0 1 1268.8 33.0" fill="none" stroke="#6a3dc4" stroke-width="1.7"/>
<path d="M1268.8 186.8 A10 10 0 0 1 1266 195.6" fill="none" stroke="#6a3dc4" stroke-width="1.7"/>
<path d="M590.2 192.9 A10 10 0 0 0 599.6 199.4" fill="none" stroke="#6a3dc4" stroke-width="1.7"/>
<path d="M607.5 19.4 H1260.6" fill="none" stroke="#6a3dc4" stroke-width="1.7" stroke-dasharray="8.06 8.07"/>
<path d="M607.5 199.4 H1260.6" fill="none" stroke="#6a3dc4" stroke-width="1.7" stroke-dasharray="8.06 8.07"/>
<path d="M590 33.2 V193.4" fill="none" stroke="#6a3dc4" stroke-width="1.7" stroke-dasharray="10.2 10.25"/>
<path d="M1268.8 40.5 V191.4" fill="none" stroke="#6a3dc4" stroke-width="1.7" stroke-dasharray="10.2 10.25"/>
<rect x="1266" y="51" width="6" height="122.80000000000001" fill="#673ab7"/>
<rect x="528" y="106.8" width="26" height="8.4" fill="url(#ar)"/>
<path d="M552.3 96 L573.4 111 L552.3 126 Z" fill="url(#ah)"/>
<text transform="translate(605.3 70.45) scale(1 1.75)" font-family="'DejaVu Sans',sans-serif" font-size="21.5" fill="#000">➢</text>
<text x="639" y="67" font-size="23" font-weight="bold" fill="#000" textLength="265.5" lengthAdjust="spacing">VHH Platform Strength:</text>
<text x="913.75" y="67" font-size="23" font-weight="normal" fill="#000" textLength="345.0" lengthAdjust="spacing">Providing monkey cross-reactive</text>
<text x="639" y="108.75" font-size="23" font-weight="normal" fill="#000" textLength="578.5" lengthAdjust="spacing">anti-CD3/TCR nanobodies and functionally compatible</text>
<text x="639" y="150.5" font-size="23" font-weight="normal" fill="#000" textLength="597" lengthAdjust="spacing">co-stimulatory nanobodies, offering a versatile toolkit to</text>
<text x="639" y="192.25" font-size="23" font-weight="normal" fill="#000" textLength="547" lengthAdjust="spacing">address diverse needs in complex molecular design.</text>
<path d="M594 244.6 Q594.5 243.6 597 243.4" fill="none" stroke="#6a3dc4" stroke-width="1.7"/>
<path d="M594 373.40000000000003 Q594.5 374.40000000000003 597 374.6" fill="none" stroke="#6a3dc4" stroke-width="1.7"/>
<path d="M595.5 243.4 H1260.6" fill="none" stroke="#6a3dc4" stroke-width="1.7" stroke-dasharray="8.06 8.07"/>
<path d="M595.5 374.6 H1260.6" fill="none" stroke="#6a3dc4" stroke-width="1.7" stroke-dasharray="8.06 8.07"/>
<path d="M590 251.4 V368.6" fill="none" stroke="#6a3dc4" stroke-width="1.7" stroke-dasharray="10.2 10.25"/>
<path d="M1268.8 256.25 V366.6" fill="none" stroke="#6a3dc4" stroke-width="1.7" stroke-dasharray="10.2 10.25"/>
<rect x="1266" y="266.75" width="6" height="89.5" fill="#673ab7"/>
<rect x="528" y="304.8" width="26" height="8.4" fill="url(#ar)"/>
<path d="M552.3 294 L573.4 309 L552.3 324 Z" fill="url(#ah)"/>
<text transform="translate(605.3 279.7) scale(1 1.75)" font-family="'DejaVu Sans',sans-serif" font-size="21.5" fill="#000">➢</text>
<text x="639" y="276.25" font-size="23" font-weight="bold" fill="#000" textLength="202" lengthAdjust="spacing">Strategy pipeline :</text>
<text x="849" y="276.25" font-size="23" font-weight="normal" fill="#000" textLength="380.5" lengthAdjust="spacing">prioritizing the development of next</text>
<text x="639" y="317.5" font-size="23" font-weight="normal" fill="#000" textLength="594.8" lengthAdjust="spacing">generation TCEs, CD8 T cell-biased TCEs, and novel TCE</text>
<text x="639" y="358.75" font-size="23" font-weight="normal" fill="#000" textLength="578" lengthAdjust="spacing">formats designed to overcome resistance mechanisms.</text>
<path d="M594 419.5 Q594.5 418.5 597 418.3" fill="none" stroke="#6a3dc4" stroke-width="1.7"/>
<path d="M594 548.5 Q594.5 549.5 597 549.7" fill="none" stroke="#6a3dc4" stroke-width="1.7"/>
<path d="M595.5 418.3 H1260.6" fill="none" stroke="#6a3dc4" stroke-width="1.7" stroke-dasharray="8.06 8.07"/>
<path d="M595.5 549.7 H1260.6" fill="none" stroke="#6a3dc4" stroke-width="1.7" stroke-dasharray="8.06 8.07"/>
<path d="M590 426.3 V543.7" fill="none" stroke="#6a3dc4" stroke-width="1.7" stroke-dasharray="10.2 10.25"/>
<path d="M1268.8 431.1 V541.7" fill="none" stroke="#6a3dc4" stroke-width="1.7" stroke-dasharray="10.2 10.25"/>
<rect x="1266" y="441.6" width="6" height="90.10000000000002" fill="#673ab7"/>
<rect x="528" y="471.5" width="26" height="8.4" fill="url(#ar)"/>
<path d="M552.3 460.7 L573.4 475.7 L552.3 490.7 Z" fill="url(#ah)"/>
<text transform="translate(605.3 454.05) scale(1 1.75)" font-family="'DejaVu Sans',sans-serif" font-size="21.5" fill="#000">➢</text>
<text x="639" y="450.6" font-size="23" font-weight="bold" fill="#000" textLength="464.8" lengthAdjust="spacing">Diverse Sequence Library for Enablement:</text>
<text x="1112.3" y="450.6" font-size="23" font-weight="normal" fill="#000" textLength="119.0" lengthAdjust="spacing">Engineered</text>
<text x="639" y="493.1" font-size="23" font-weight="normal" fill="#000" textLength="601.4" lengthAdjust="spacing">core sequences with tailored bioactivity support both in-</text>
<text x="639" y="534.3" font-size="23" font-weight="normal" fill="#000" textLength="411.9" lengthAdjust="spacing">house pipelines &amp; external partnership.</text>
</g>
</svg>
</body></html>
